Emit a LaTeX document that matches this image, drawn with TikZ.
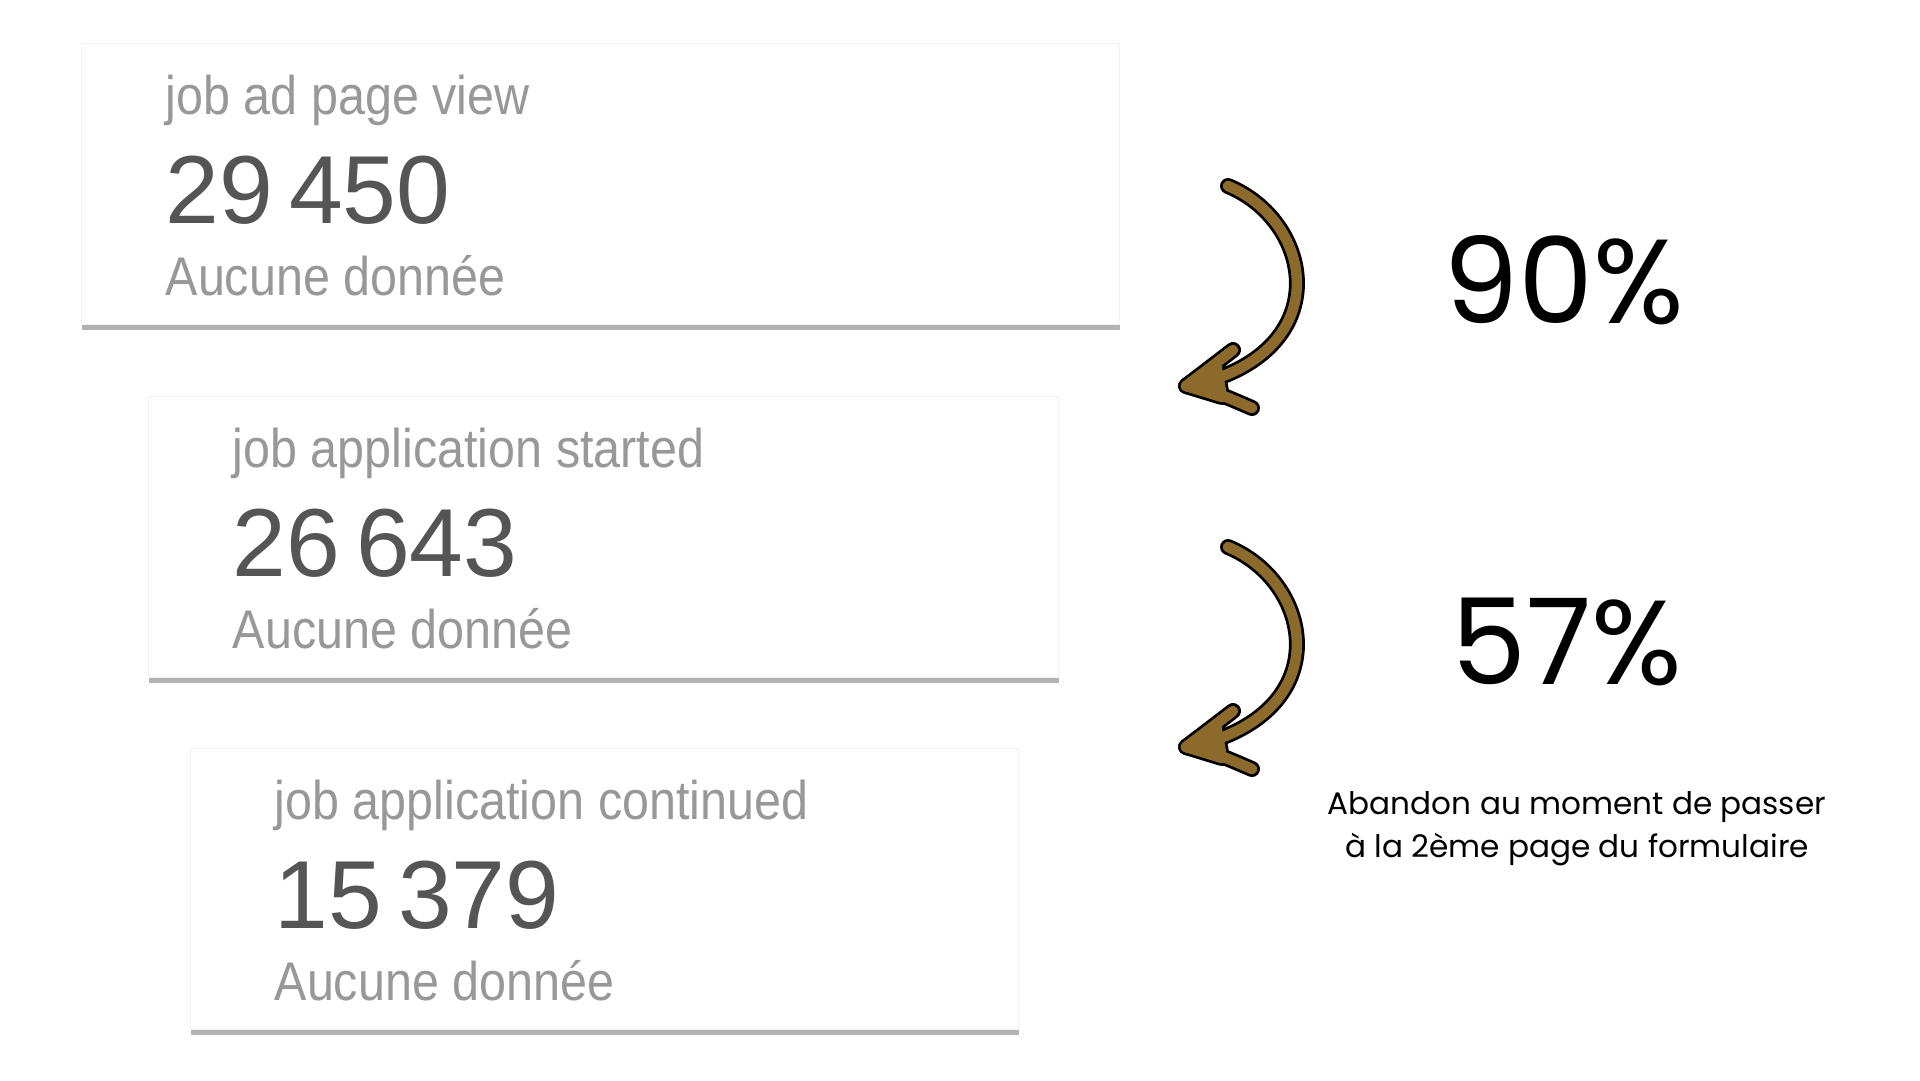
\documentclass[tikz,border=0pt]{standalone}
\usepackage{fontspec}
\usetikzlibrary{shadows}
\usetikzlibrary{positioning}
\usetikzlibrary{calc}
\newfontfamily\cardfont[FakeStretch=0.89]{Liberation Sans}
\newfontfamily\numfont{Liberation Sans}
\newfontfamily\popfont{Poppins}
\definecolor{arrowbrown}{RGB}{139,106,44}
\definecolor{cardgray}{RGB}{152,152,152}
\definecolor{numgray}{RGB}{85,85,85}

\begin{document}
\begin{tikzpicture}[x=0.1mm, y=-0.1mm,
  card/.style={fill=white, draw=black!5, anchor=north west, inner sep=0,
    minimum height=281*0.1mm,
    drop shadow={shadow xshift=0mm, shadow yshift=-0.5mm, opacity=0.55, fill=black!55}},
  cardtitle/.style={anchor=base west, inner sep=0, text=cardgray,
    font=\cardfont\fontsize{15.5}{18}\selectfont},
  cardnum/.style={anchor=base west, inner sep=0, text=numgray,
    font=\numfont\fontsize{27.5}{32}\selectfont},
  rate/.style={inner sep=0, font=\popfont\fontsize{34}{40}\selectfont},
  note/.style={inner sep=0, align=center, font=\popfont\fontsize{8.85}{12.2}\selectfont}
]
 \useasboundingbox (0,0) rectangle (1920,1080);

 % cards
 \foreach \k/\cx/\cy/\w/\title/\num in {1/81/43/1038/job ad page view/29\,450,
     2/148/396/910/job application started/26\,643,
     3/190/748/828/job application continued/15\,379} {
   \node[card, minimum width=\w*0.1mm] (card\k) at (\cx,\cy) {};
   \node[cardtitle] (title\k) at ($(card\k.north west)+(84,71)$) {\title};
   \node[cardnum] (num\k) at ($(card\k.north west)+(84,180)$) {\num};
   \node[cardtitle] (nodata\k) at ($(card\k.north west)+(84,252)$) {Aucune donnée};
 }

 % arrows
 \foreach \dy/\k in {0/1, 361/2} {
   \begin{scope}[shift={(0,\dy)}]
     \coordinate (tail\k) at (1228,186);
     \coordinate (tip\k) at (1186,386);
     \coordinate (barbA\k) at (1233,350);
     \coordinate (barbB\k) at (1252,408);
     \foreach \col/\lw in {black/1.6mm, arrowbrown/1.05mm} {
       \draw[\col, line width=\lw, line cap=round, line join=round]
         (tail\k) .. controls (1310,220) and (1335,340) .. (1212,380)
         (barbA\k) -- (tip\k) .. controls (1215,392) .. (barbB\k);
       \filldraw[\col, line width=\lw, line join=round]
         (tip\k) -- (1216,364) -- (1222,397) -- cycle;
     }
   \end{scope}
 }

 % rates
 \node[rate] (rate1) at (1564,280) {90\%};
 \node[rate] (rate2) at (1567,642) {57\%};
 \node[note] (abandon) at (1577,829) {Abandon au moment de passer\\à la 2ème page du formulaire};

\end{tikzpicture}
\end{document}
